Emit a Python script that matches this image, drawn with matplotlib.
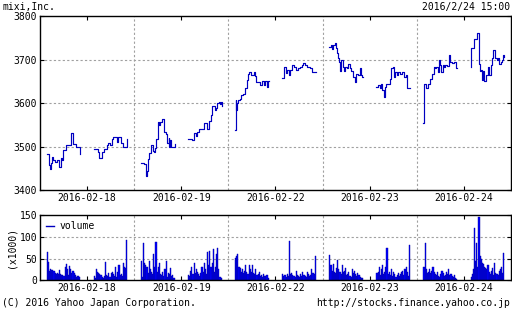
import numpy as np
import matplotlib
matplotlib.use('Agg')
import matplotlib.pyplot as plt

# ---- data ----
days = ['2016-02-18', '2016-02-19', '2016-02-22', '2016-02-23', '2016-02-24']

# (minutes after session open, price); morning opens 9:00, afternoon 12:30
feb18_am = [(0, 3483), (9, 3458), (14, 3449), (19, 3462), (22, 3477), (28, 3470), (38, 3465),
            (47, 3470), (56, 3455), (63, 3474), (69, 3470), (75, 3493), (84, 3504), (100, 3504),
            (109, 3532), (116, 3507), (131, 3500), (141, 3500), (148, 3483), (150, 3483)]
feb18_pm = [(0, 3494), (20, 3488), (23, 3475), (32, 3475), (38, 3488), (46, 3495), (58, 3505),
            (63, 3510), (72, 3505), (81, 3518), (87, 3522), (104, 3511), (110, 3522), (121, 3508),
            (130, 3500), (144, 3500), (147, 3518), (150, 3518)]
feb19_am = [(0, 3464), (14, 3460), (23, 3433), (29, 3445), (32, 3473), (38, 3487), (43, 3505),
            (52, 3490), (58, 3488), (63, 3498), (69, 3519), (75, 3558), (81, 3550), (87, 3556),
            (92, 3563), (101, 3563), (104, 3533), (113, 3530), (118, 3508), (124, 3520),
            (127, 3500), (130, 3515), (133, 3500), (144, 3500), (150, 3507)]
feb19_pm = [(0, 3518), (20, 3515), (27, 3531), (35, 3524), (42, 3535), (50, 3540), (65, 3542),
            (73, 3555), (83, 3540), (89, 3540), (95, 3559), (102, 3573), (108, 3594), (120, 3585),
            (126, 3590), (129, 3601), (138, 3604), (144, 3598), (147, 3604), (150, 3594)]
feb22_am = [(0, 3539), (2, 3607), (5, 3585), (9, 3600), (15, 3607), (21, 3610), (28, 3619),
            (37, 3622), (43, 3634), (52, 3653), (58, 3668), (64, 3672), (73, 3665), (83, 3672),
            (89, 3663), (95, 3649), (104, 3649), (113, 3641), (122, 3650), (129, 3641),
            (135, 3650), (141, 3638), (147, 3650), (150, 3650)]
feb22_pm = [(0, 3657), (8, 3684), (17, 3670), (23, 3677), (29, 3665), (36, 3677), (45, 3688),
            (54, 3684), (63, 3677), (70, 3681), (79, 3684), (88, 3688), (94, 3693), (101, 3688),
            (110, 3683), (116, 3684), (125, 3681), (131, 3672), (150, 3672)]
feb23_am = [(0, 3728), (9, 3734), (12, 3725), (18, 3733), (24, 3739), (30, 3727), (36, 3716),
            (39, 3703), (45, 3695), (48, 3674), (54, 3699), (60, 3684), (66, 3674), (72, 3684),
            (78, 3680), (84, 3690), (93, 3680), (99, 3674), (105, 3661), (114, 3649), (120, 3666),
            (126, 3665), (135, 3680), (141, 3665), (147, 3661), (150, 3661)]
feb23_pm = [(0, 3638), (6, 3642), (14, 3634), (20, 3644), (26, 3630), (32, 3615), (37, 3638),
            (43, 3644), (55, 3644), (61, 3655), (66, 3680), (72, 3683), (78, 3661), (84, 3672),
            (92, 3665), (98, 3672), (107, 3668), (115, 3672), (121, 3661), (130, 3665),
            (136, 3634), (150, 3634)]
feb24_am = [(0, 3554), (1, 3643), (7, 3643), (13, 3634), (19, 3643), (25, 3645), (31, 3656),
            (36, 3668), (45, 3684), (51, 3680), (57, 3684), (63, 3672), (68, 3698), (74, 3687),
            (80, 3672), (86, 3688), (92, 3684), (98, 3688), (106, 3686), (112, 3710), (118, 3694),
            (127, 3692), (135, 3695), (144, 3688), (147, 3680), (150, 3680)]
feb24_pm = [(0, 3684), (2, 3727), (8, 3726), (14, 3747), (23, 3748), (29, 3760), (36, 3756),
            (37, 3690), (42, 3674), (48, 3677), (51, 3653), (57, 3674), (60, 3650), (70, 3665),
            (76, 3684), (82, 3665), (91, 3688), (97, 3704), (100, 3722), (107, 3703), (116, 3699),
            (122, 3704), (128, 3691), (135, 3694), (141, 3700), (144, 3710), (150, 3705)]

# 5-minute volume (x1000): 30 morning bars then 30 afternoon bars
vol_feb18 = [65, 42, 22, 25, 23, 24, 22, 16, 15, 16, 14, 23, 14, 12, 13, 10, 30, 38, 26, 12,
             32, 26, 16, 22, 18, 13, 8, 10, 11, 7,
             10, 6, 25, 20, 16, 15, 12, 8, 5, 10, 42, 12, 10, 18, 7, 18, 20, 15, 10, 30,
             8, 20, 35, 12, 15, 10, 40, 30, 28, 93]
vol_feb19 = [45, 8, 85, 40, 35, 30, 18, 45, 25, 20, 15, 60, 30, 88, 20, 30, 40, 15, 12, 20,
             10, 25, 45, 8, 18, 15, 28, 10, 12, 5,
             12, 10, 22, 30, 15, 40, 18, 25, 20, 15, 10, 18, 30, 20, 40, 25, 15, 65, 35, 68,
             30, 40, 72, 20, 30, 60, 74, 25, 8, 5]
vol_feb22 = [52, 55, 60, 30, 28, 20, 25, 18, 22, 35, 20, 15, 35, 25, 20, 35, 18, 15, 25, 12,
             15, 20, 10, 12, 8, 15, 10, 10, 12, 5,
             15, 10, 12, 8, 14, 10, 90, 15, 18, 12, 10, 8, 22, 12, 10, 8, 15, 10, 20, 12,
             10, 8, 20, 15, 10, 12, 25, 18, 15, 56]
vol_feb23 = [58, 35, 22, 38, 20, 18, 28, 47, 25, 20, 15, 35, 20, 22, 28, 12, 15, 20, 10, 8,
             25, 18, 22, 15, 10, 18, 12, 8, 6, 5,
             18, 20, 30, 12, 25, 35, 15, 20, 30, 75, 15, 20, 12, 25, 10, 20, 15, 8, 12, 18,
             10, 15, 20, 22, 12, 25, 30, 20, 10, 81]
vol_feb24 = [30, 85, 25, 18, 20, 25, 18, 22, 30, 20, 15, 12, 20, 10, 8, 15, 22, 18, 10, 12,
             20, 15, 25, 12, 15, 10, 8, 12, 5, 3,
             8, 15, 25, 120, 45, 85, 30, 145, 55, 48, 40, 38, 30, 28, 25, 35, 20, 15, 22, 28,
             12, 40, 18, 15, 12, 22, 25, 30, 18, 62]

sessions = [(feb18_am, feb18_pm), (feb19_am, feb19_pm), (feb22_am, feb22_pm),
            (feb23_am, feb23_pm), (feb24_am, feb24_pm)]
volumes = [vol_feb18, vol_feb19, vol_feb22, vol_feb23, vol_feb24]

# x axis in hours: each day spans 7 h (8:30 - 15:30)
DAY = 7.0
AM_OPEN = 0.5
PM_OPEN = 4.0

plt.rcParams['font.family'] = ['DejaVu Sans Mono']
plt.rcParams['font.size'] = 7

fig = plt.figure(figsize=(5.12, 3.10), dpi=100)
ax = fig.add_axes([0.078, 0.3855, 0.92, 0.5629])
axv = fig.add_axes([0.078, 0.0958, 0.92, 0.2097])

line_c = '#0000c0'
for d, (am, pm) in enumerate(sessions):
    for sess, start in ((am, AM_OPEN), (pm, PM_OPEN)):
        t = np.array([p[0] for p in sess]) / 60.0 + d * DAY + start
        v = [p[1] for p in sess]
        ax.plot(t, v, color=line_c, lw=0.85, drawstyle='steps-post')

for d, vol in enumerate(volumes):
    vol = np.array(vol)
    xs = np.concatenate([d * DAY + AM_OPEN + (np.arange(30) + 0.5) / 12.0,
                         d * DAY + PM_OPEN + (np.arange(30) + 0.5) / 12.0])
    axv.bar(xs, vol, width=1 / 12.0, color='#0000ff', edgecolor='#0000a0', linewidth=0.3)
axv.plot([], [], color='#0000c0', lw=1, label='volume')

bounds = [DAY * i for i in range(1, 5)]
mids = [DAY * i + DAY / 2 for i in range(5)]

for a in (ax, axv):
    a.set_xlim(0, 5 * DAY)
    a.set_xticks(mids)
    a.set_xticklabels(days)
    for b in bounds:
        a.axvline(b, color='#a0a0a0', ls=(0, (2, 2)), lw=0.8, zorder=0)
    a.tick_params(direction='in', length=3, top=True, right=True, pad=2, colors='black')
    for s in a.spines.values():
        s.set_linewidth(1.0)

ax.set_ylim(3400, 3800)
ax.set_yticks([3400, 3500, 3600, 3700, 3800])
for yv in [3500, 3600, 3700]:
    ax.axhline(yv, color='#a0a0a0', ls=(0, (2, 2)), lw=0.8, zorder=0)

axv.set_ylim(0, 150)
axv.set_yticks([0, 50, 100, 150])
for yv in [50, 100]:
    axv.axhline(yv, color='#a0a0a0', ls=(0, (2, 2)), lw=0.8, zorder=0)
axv.set_ylabel('(x1000)', labelpad=2)
axv.legend(loc='upper left', frameon=False, handlelength=0.8, handletextpad=0.6,
           borderaxespad=0.2, fontsize=7)

fig.text(0.004, 0.995, 'mixi,Inc.', ha='left', va='top', fontsize=7)
fig.text(0.996, 0.995, '2016/2/24 15:00', ha='right', va='top', fontsize=7)
fig.text(0.004, 0.005, '(C) 2016 Yahoo Japan Corporation.', ha='left', va='bottom', fontsize=7)
fig.text(0.996, 0.005, 'http://stocks.finance.yahoo.co.jp', ha='right', va='bottom', fontsize=7)

fig.savefig('out.png', dpi=100)
